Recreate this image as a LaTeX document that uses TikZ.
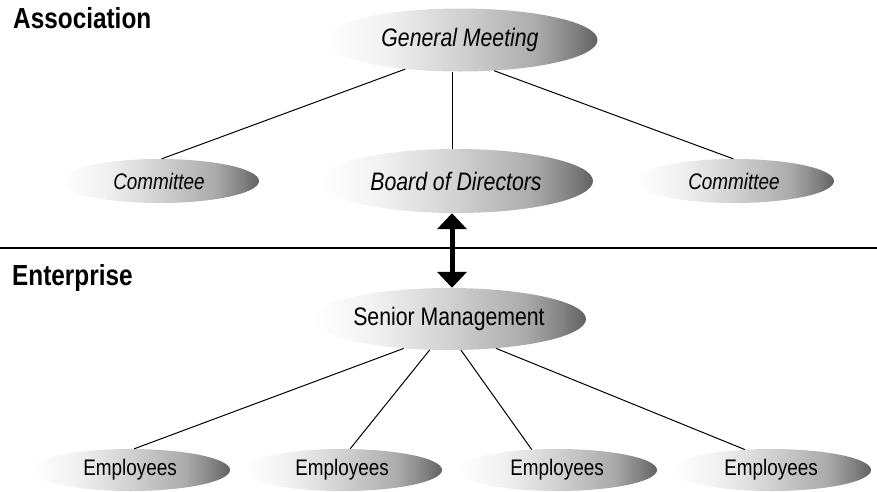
\documentclass[tikz,border=0pt]{standalone}
\usepackage{fontspec}
\setmainfont{Liberation Sans}[FakeStretch=0.84]
\usetikzlibrary{shapes.geometric,arrows.meta}
\pgfdeclarehorizontalshading{ellshade}{100bp}{color(0bp)=(white); color(25bp)=(white); color(36bp)=(black!5); color(50bp)=(black!18); color(64bp)=(black!33); color(71bp)=(black!50); color(75bp)=(black!62); color(100bp)=(black!62)}
\tikzset{
  ell/.style={ellipse, inner sep=0pt, shading=ellshade, draw=none},
  big/.style={ell, minimum width=275pt, minimum height=63pt, font=\fontsize{25.3}{30}\selectfont},
  small/.style={ell, minimum width=200pt, minimum height=44pt, font=\fontsize{22.5}{27}\selectfont},
  conn/.style={draw=black, line width=1pt},
  header/.style={anchor=base west, inner sep=0pt, font=\fontsize{29}{34}\selectfont\bfseries},
  bigarrow/.style={line width=5pt, {Triangle[length=16pt,width=29pt]}-{Triangle[length=16pt,width=29pt]}}
}
\begin{document}
\begin{tikzpicture}[x=1pt,y=-1pt]
\useasboundingbox (0,0) rectangle (877,491);
\node[header] (assoc) at (13,28) {Association};
\node[header] (enter) at (12,285) {Enterprise};
\node[big] (gm) at (460,40) {\itshape General Meeting};
\node[small] (com1) at (159,181) {\itshape Committee};
\node[big, minimum width=274pt, minimum height=64pt] (board) at (456,181) {\itshape Board of Directors};
\node[small] (com2) at (734,181) {\itshape Committee};
\node[big, minimum width=274pt, minimum height=62pt] (senior) at (449,319) {Senior Management};
\node[small, minimum height=42pt] (e1) at (130,470) {Employees};
\node[small, minimum height=42pt] (e2) at (342,470) {Employees};
\node[small, minimum height=42pt] (e3) at (557,470) {Employees};
\node[small, minimum height=42pt] (e4) at (771,470) {Employees};
\coordinate (ax) at (452,248);
% separator
\draw[line width=1.5pt] (0,248) -- (877,248);
% connectors
\draw[conn] (gm.208) -- (com1.83);
\draw[conn] (board.96) -- (board.96 |- gm.south);
\draw[conn] (gm.318) -- (com2.92);
\draw[conn] (senior.213) -- (e1.79);
\draw[conn] (senior.238) -- (e2.69);
\draw[conn] (senior.291) -- (e3.141);
\draw[conn] (senior.328) -- (e4.142);
\draw[bigarrow] (ax |- board.south) -- (ax |- senior.north);
\end{tikzpicture}
\end{document}
